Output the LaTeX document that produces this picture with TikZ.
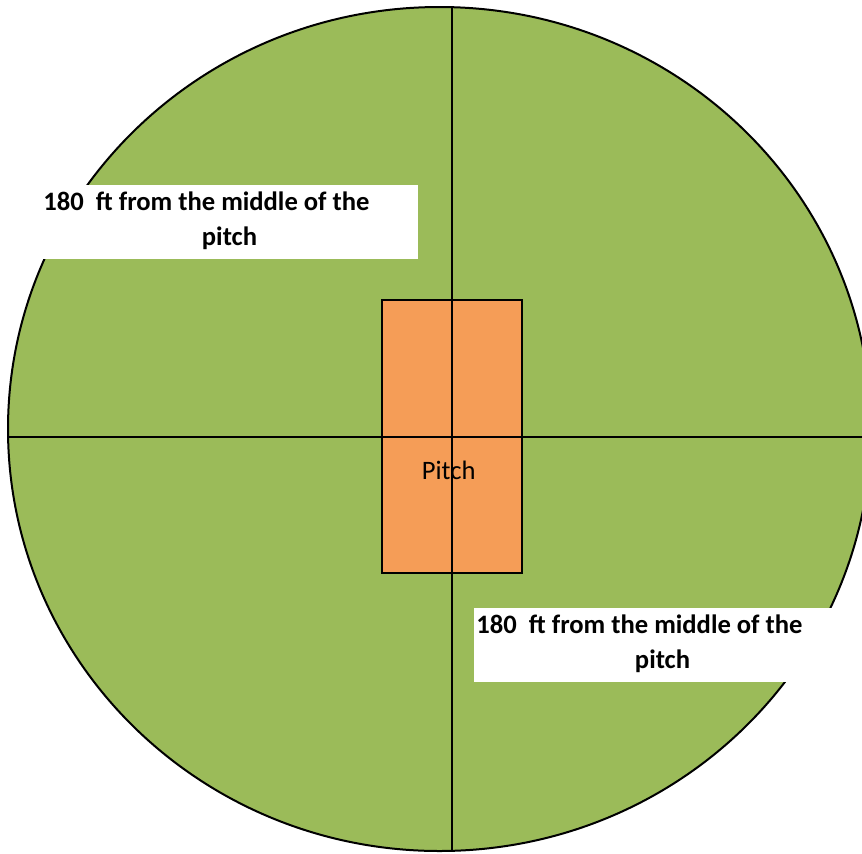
\documentclass[tikz,border=0pt]{standalone}
\usepackage{fontspec}
\setmainfont{Carlito}
\usepackage{tikz}
\usetikzlibrary{positioning, shapes.geometric}
\definecolor{grass}{HTML}{9BBB59}
\definecolor{clay}{HTML}{F59D57}

\begin{document}
\begin{tikzpicture}[
  x=0.5pt, y=-0.5pt,
  field/.style = {draw, ellipse, fill=grass, line width=1pt, minimum width=431.5pt, minimum height=422pt, inner sep=0pt, outer sep=0pt},
  strip/.style = {draw, fill=clay, line width=1pt, minimum width=70pt, minimum height=136.5pt, inner sep=0pt, outer sep=0pt},
  tag/.style = {fill=white, anchor=base, inner xsep=0pt, inner ysep=0pt, text width=188.5pt, align=flush center, text height=12.75pt, text depth=24.25pt, font=\bfseries\fontsize{13.3}{17.5}\selectfont},
  cross/.style = {line width=1pt}
  ]
  \useasboundingbox (0,0) rectangle (862,853);
  \node[field] (ground) at (439.5,429) {};
  \node[strip] (pitch) at (452,436.5) {};
  \coordinate (top) at (452,7.4);
  \coordinate (bottom) at (452,851);
  \coordinate (left) at (8,437);
  \coordinate (right) at (862,437);
  \draw[cross] (top) -- (bottom);
  \draw[cross] (left) -- (right);
  \node[tag] (tagwest) at (229.5,210) {180\ \ ft from the middle of the\rule{23pt}{0pt}\\pitch};
  \node[tag] (tageast) at (662.5,633) {180\ \ ft from the middle of the\rule{23pt}{0pt}\\pitch};
  \node[anchor=base west, inner sep=0pt, font=\fontsize{13.3}{16}\selectfont] (pitchname) at (421.5,479) {Pitch};
\end{tikzpicture}
\end{document}
